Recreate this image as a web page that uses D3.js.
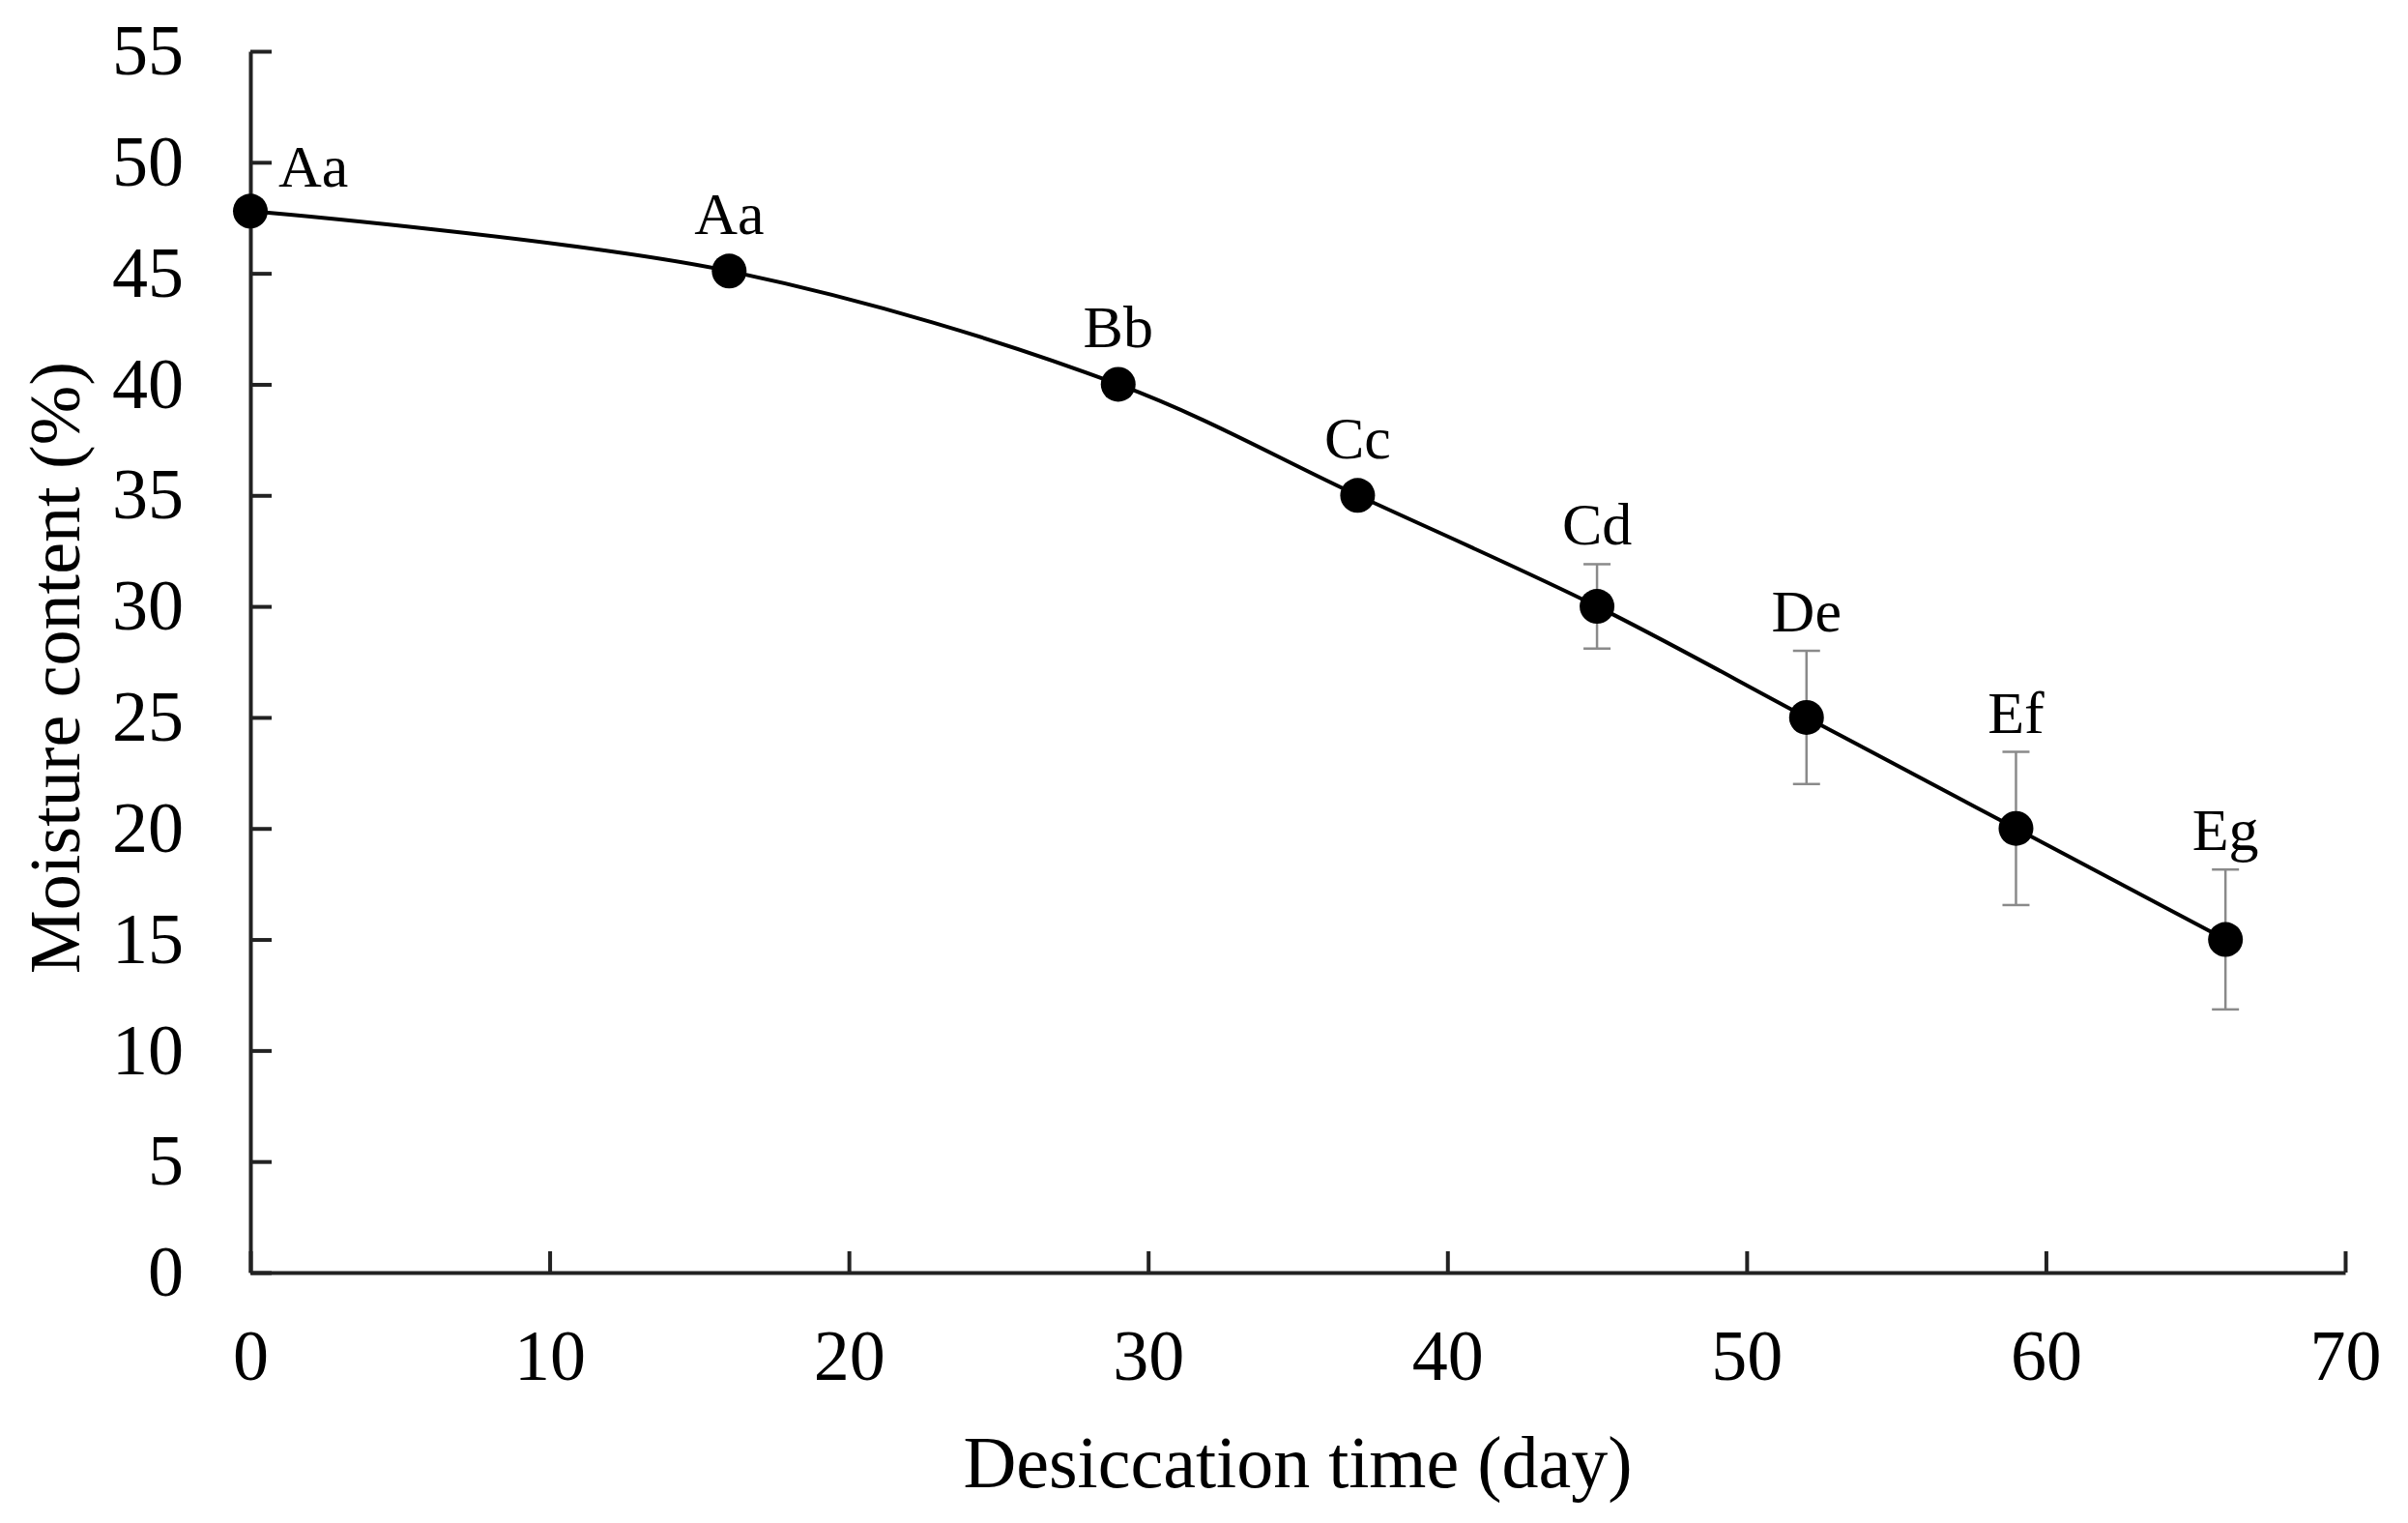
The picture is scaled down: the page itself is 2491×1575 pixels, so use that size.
<!DOCTYPE html>
<html>
<head>
<meta charset="utf-8">
<script src="https://cdn.jsdelivr.net/npm/d3@7"></script>
<style>
    html, body { margin: 0; padding: 0; background: #fff; }
    #container { width: 2491px; height: 1575px; }
    text { font-family: "Liberation Serif", "Times New Roman", serif; fill: #000; }
</style>
</head>
<body>
<div id="container"></div>
<script>
'use strict';
(function() {
    // data
    var days = [0, 16, 29, 37, 45, 52, 59, 66];
    var moisture = [47.8, 45.1, 40.0, 35.0, 30.0, 25.0, 20.0, 15.0];
    var errs = [0, 0, 0, 0, 1.9, 3.0, 3.45, 3.15];
    var letters = ['Aa', 'Aa', 'Bb', 'Cc', 'Cd', 'De', 'Ef', 'Eg'];
    var xTicks = [0, 10, 20, 30, 40, 50, 60, 70];
    var yTicks = [0, 5, 10, 15, 20, 25, 30, 35, 40, 45, 50, 55];

    var W = 2491, H = 1575;
    var margin = {top: 53, right: 65, bottom: 259, left: 259};
    var width = W - margin.left - margin.right,
        height = H - margin.top - margin.bottom;
    var r = 18;

    var svg = d3.select('#container').append('svg')
        .attr('width', W)
        .attr('height', H);
    svg.append('rect').attr('width', W).attr('height', H).attr('fill', '#fff');

    var g = svg.append('g')
        .attr('transform', 'translate(' + margin.left + ',' + margin.top + ')');

    var scaleX = d3.scaleLinear().domain([0, 70]).range([0, width]);
    var scaleY = d3.scaleLinear().domain([0, 55]).range([height, 0]);

    var points = days.map(function(d, i) {
        return {day: d, value: moisture[i], err: errs[i], label: letters[i]};
    });

    // axes, ticks pointing inward
    var axisX = d3.axisBottom(scaleX)
        .tickValues(xTicks)
        .tickSizeInner(-22)
        .tickSizeOuter(0)
        .tickPadding(58);
    var axisY = d3.axisLeft(scaleY)
        .tickValues(yTicks)
        .tickSizeInner(-22)
        .tickSizeOuter(0)
        .tickPadding(69);

    function styleAxis(sel) {
        sel.selectAll('path, line').attr('stroke', '#222').attr('stroke-width', 4);
        sel.selectAll('text').style('font-size', '74px').attr('fill', '#000');
        sel.attr('font-family', null);
    }

    g.append('g')
        .attr('transform', 'translate(0,' + height + ')')
        .call(axisX)
        .call(styleAxis);
    g.append('g')
        .call(axisY)
        .call(styleAxis);

    // error bars
    var withErr = points.filter(function(p) { return p.err > 0; });
    var eb = g.selectAll('.err').data(withErr).enter().append('g').attr('class', 'err')
        .attr('stroke', '#8a8a8a').attr('stroke-width', 2.5);
    eb.append('line')
        .attr('x1', function(d) { return scaleX(d.day); })
        .attr('x2', function(d) { return scaleX(d.day); })
        .attr('y1', function(d) { return scaleY(d.value + d.err); })
        .attr('y2', function(d) { return scaleY(d.value - d.err); });
    [1, -1].forEach(function(s) {
        eb.append('line')
            .attr('x1', function(d) { return scaleX(d.day) - 14; })
            .attr('x2', function(d) { return scaleX(d.day) + 14; })
            .attr('y1', function(d) { return scaleY(d.value + s * d.err); })
            .attr('y2', function(d) { return scaleY(d.value + s * d.err); });
    });

    // smoothed line
    var line = d3.line()
        .x(function(d) { return scaleX(d.day); })
        .y(function(d) { return scaleY(d.value); })
        .curve(d3.curveCatmullRom.alpha(0.5));
    g.append('path')
        .datum(points)
        .attr('d', line)
        .attr('fill', 'none')
        .attr('stroke', '#000')
        .attr('stroke-width', 4);

    g.selectAll('.dot').data(points).enter().append('circle')
        .attr('class', 'dot')
        .attr('cx', function(d) { return scaleX(d.day); })
        .attr('cy', function(d) { return scaleY(d.value); })
        .attr('r', r)
        .attr('fill', '#000');

    // significance letters
    g.selectAll('.lbl').data(points).enter().append('text')
        .attr('class', 'lbl')
        .style('font-size', '62px')
        .attr('text-anchor', function(d) { return d.day === 0 ? 'start' : 'middle'; })
        .attr('x', function(d) { return scaleX(d.day) + (d.day === 0 ? 29 : 0); })
        .attr('y', function(d) {
            if (d.day === 0) return scaleY(d.value) - 25;
            var top = Math.min(scaleY(d.value + d.err), scaleY(d.value) - r);
            return top - 20;
        })
        .text(function(d) { return d.label; });

    // axis titles
    svg.append('text')
        .attr('x', margin.left + width / 2)
        .attr('y', 1538)
        .attr('text-anchor', 'middle')
        .style('font-size', '76px')
        .text('Desiccation time (day)');
    svg.append('text')
        .attr('transform', 'translate(82,' + (margin.top + height / 2 + 6) + ') rotate(-90)')
        .attr('text-anchor', 'middle')
        .style('font-size', '74px')
        .text('Moisture content (%)');
})();
</script>
</body>
</html>
